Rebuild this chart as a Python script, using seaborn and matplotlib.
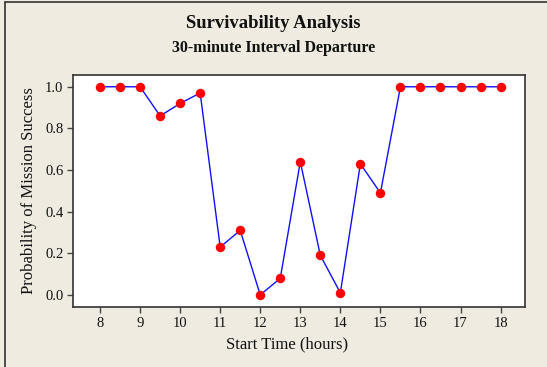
import matplotlib
matplotlib.use('Agg')
import matplotlib.pyplot as plt
from matplotlib.lines import Line2D
import pandas as pd
import seaborn as sns

# start times (hours) and probability of mission success
start_time = [8.0, 8.5, 9.0, 9.5, 10.0, 10.5, 11.0, 11.5, 12.0, 12.5, 13.0,
              13.5, 14.0, 14.5, 15.0, 15.5, 16.0, 16.5, 17.0, 17.5, 18.0]
p_success = [1.00, 1.00, 1.00, 0.86, 0.92, 0.97, 0.23, 0.31, 0.00, 0.08, 0.64,
             0.19, 0.01, 0.63, 0.49, 1.00, 1.00, 1.00, 1.00, 1.00, 1.00]
x_ticks = [8, 9, 10, 11, 12, 13, 14, 15, 16, 17, 18]
y_ticks = [0.0, 0.2, 0.4, 0.6, 0.8, 1.0]

df = pd.DataFrame({'start': start_time, 'p': p_success})

sns.set_style('ticks')
plt.rcParams['font.family'] = ['Liberation Serif', 'DejaVu Serif']

bg = '#EFEBE1'
fig = plt.figure(figsize=(5.47, 3.67), dpi=100, facecolor=bg)
ax = fig.add_axes([73 / 547, 1 - 307 / 367, (525 - 73) / 547, (307 - 74.5) / 367])
ax.set_facecolor('white')

sns.lineplot(data=df, x='start', y='p', ax=ax, color='#1010FF', linewidth=1.0,
             marker='o', markersize=6.8, markerfacecolor='#FF0000',
             markeredgecolor='#FF0000', markeredgewidth=0)

ax.set_xlim(7.325, 18.61)
ax.set_ylim(-0.058, 1.059)
ax.set_xticks(x_ticks)
ax.set_xticklabels([str(t) for t in x_ticks])
ax.set_yticks(y_ticks)
ax.set_yticklabels([f'{t:.1f}' for t in y_ticks])
ax.tick_params(axis='both', labelsize=10.5, length=4, width=1, color='#444444',
               labelcolor='#111111', pad=3)
for s in ax.spines.values():
    s.set_visible(True)
    s.set_color('#333333')
    s.set_linewidth(1.2)

ax.set_xlabel('Start Time (hours)', fontsize=12, color='#111111')
ax.xaxis.set_label_coords((287.5 - 73) / 452, -0.128)
ax.set_ylabel('Probability of Mission Success', fontsize=12, color='#111111',
              labelpad=6)

fig.text(0.5, 1 - 23.5 / 367, 'Survivability Analysis', ha='center', va='center',
         fontsize=13.4, fontweight='bold', color='#111111')
fig.text(0.5, 1 - 47.5 / 367, '30-minute Interval Departure', ha='center',
         va='center', fontsize=11.5, fontweight='bold', color='#111111')

# outer frame (left and top edges visible)
fig.add_artist(Line2D([4.5 / 547, 4.5 / 547], [0, 1 - 1.5 / 367],
                      transform=fig.transFigure, color='#333333', linewidth=1.2))
fig.add_artist(Line2D([4.5 / 547, 1], [1 - 1.5 / 367, 1 - 1.5 / 367],
                      transform=fig.transFigure, color='#333333', linewidth=1.2))

fig.savefig('out.png', dpi=100, facecolor=bg)
